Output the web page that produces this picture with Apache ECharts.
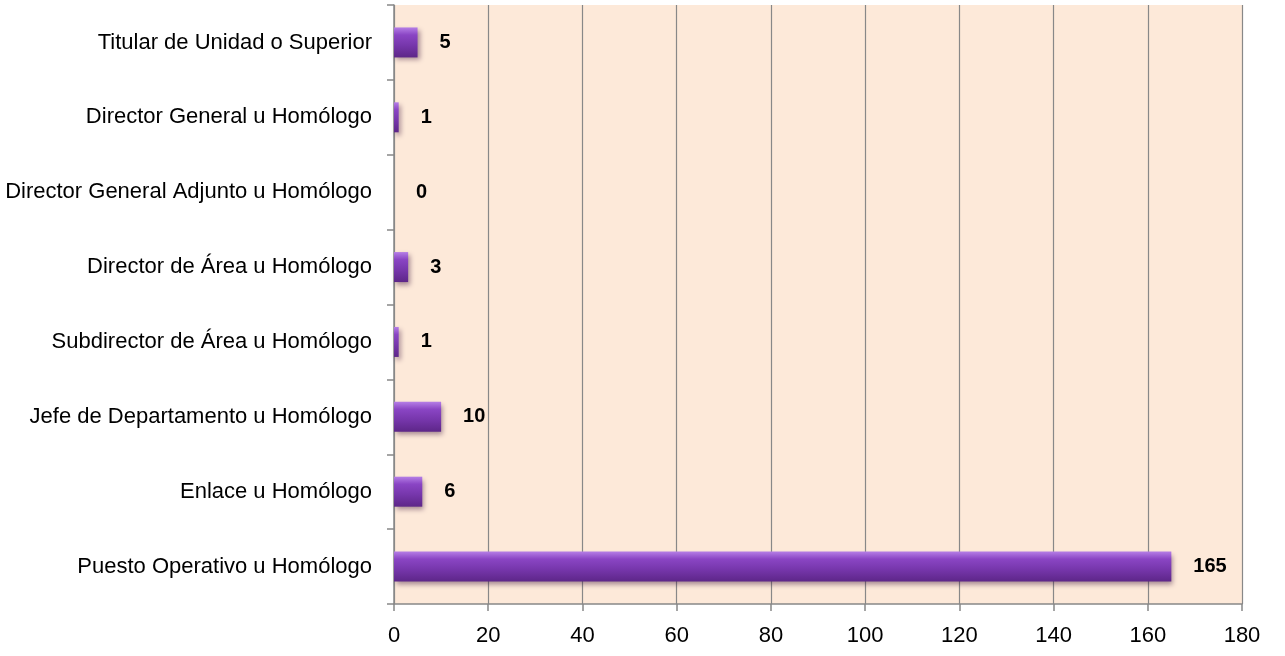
<!DOCTYPE html>
<html>
<head>
<meta charset="utf-8">
<script src="https://cdn.jsdelivr.net/npm/echarts@6/dist/echarts.min.js"></script>
<style>
  html, body { margin: 0; padding: 0; background: #fff; }
  #main { width: 1285px; height: 656px; }
</style>
</head>
<body>
<div id="main"></div>
<script>
// categorias (de abajo hacia arriba)
var categorias = ['Puesto Operativo u Homólogo', 'Enlace u Homólogo', 'Jefe de Departamento u Homólogo',
  'Subdirector de Área u Homólogo', 'Director de Área u Homólogo', 'Director General Adjunto u Homólogo',
  'Director General u Homólogo', 'Titular de Unidad o Superior'];
var valores = [165, 6, 10, 1, 3, 0, 1, 5];
var ejeMin = 0, ejeMax = 180, ejePaso = 20;

var fuente = '"Liberation Sans Narrow", "Arial Narrow", "Liberation Sans", sans-serif';

var myChart = echarts.init(document.getElementById('main'));

var option = {
    animation: false,
    grid: {
        left: 394,
        right: 43,
        top: 5,
        bottom: 52,
        show: true,
        backgroundColor: '#FDE9D9',
        borderWidth: 0
    },
    xAxis: {
        type: 'value',
        min: ejeMin,
        max: ejeMax,
        interval: ejePaso,
        axisLine: { show: true, lineStyle: { color: '#888', width: 1.5 } },
        axisTick: { show: true, length: 7, lineStyle: { color: '#888', width: 1.5 } },
        splitLine: { show: true, lineStyle: { color: '#888', width: 1.2 } },
        axisLabel: {
            color: '#000',
            fontFamily: fuente,
            fontSize: 22,
            margin: 21
        }
    },
    yAxis: {
        type: 'category',
        data: categorias,
        axisLine: { show: true, lineStyle: { color: '#888', width: 1.5 } },
        axisTick: { show: true, length: 7, lineStyle: { color: '#888', width: 1.5 } },
        axisLabel: {
            color: '#000',
            fontFamily: fuente,
            fontSize: 22,
            margin: 22
        }
    },
    series: [{
        type: 'bar',
        data: valores,
        barWidth: 30,
        itemStyle: {
            color: new echarts.graphic.LinearGradient(0, 0, 0, 1, [
                { offset: 0, color: '#b57ee6' },
                { offset: 0.25, color: '#8a45c4' },
                { offset: 0.6, color: '#7636ab' },
                { offset: 1, color: '#5d2688' }
            ]),
            shadowColor: 'rgba(60,20,60,0.45)',
            shadowBlur: 5,
            shadowOffsetX: 2,
            shadowOffsetY: 3
        },
        label: {
            show: true,
            position: 'right',
            distance: 22,
            color: '#000',
            fontFamily: fuente,
            fontWeight: 'bold',
            fontSize: 20
        }
    }]
};
myChart.setOption(option);
</script>
</body>
</html>
